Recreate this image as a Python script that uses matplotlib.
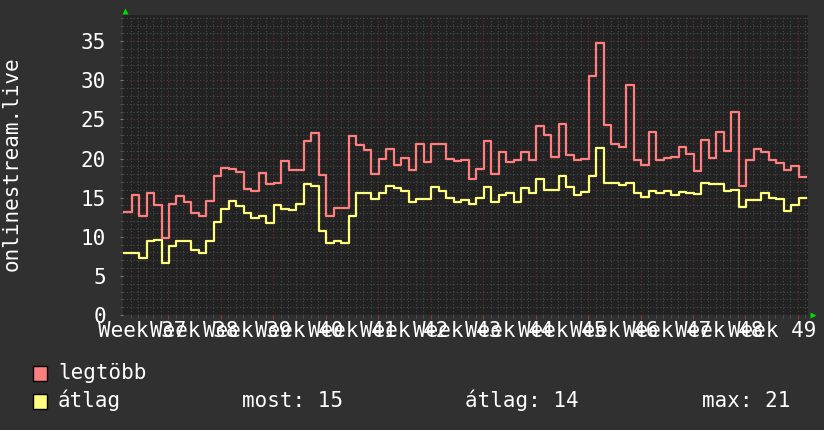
import numpy as np
import matplotlib
matplotlib.use("Agg")
import matplotlib.pyplot as plt
from matplotlib.patches import Rectangle

# daily values
legtobb = [13.2, 15.3, 12.7, 15.6, 14.0, 9.8, 14.2, 15.2, 14.4, 13.1,
           12.7, 14.6, 17.8, 18.8, 18.7, 18.3, 16.1, 15.9, 18.1, 16.7,
           16.9, 19.7, 18.5, 18.5, 22.3, 23.3, 17.9, 12.6, 13.7, 13.7,
           22.9, 21.7, 21.1, 18.0, 19.9, 21.2, 19.2, 20.1, 18.5, 21.9,
           19.6, 21.9, 21.9, 19.9, 19.7, 19.8, 17.4, 18.7, 22.3, 18.0,
           20.8, 19.6, 19.8, 20.8, 19.8, 24.1, 23.0, 20.2, 24.4, 20.5,
           19.8, 19.9, 30.5, 34.8, 24.3, 21.9, 21.5, 29.4, 19.8, 19.2,
           23.4, 19.8, 20.1, 20.2, 21.5, 20.6, 18.4, 22.4, 20.1, 23.4,
           21.0, 25.9, 16.5, 19.8, 21.2, 20.9, 19.8, 19.4, 18.5, 19.0,
           17.7]
atlag = [7.9, 7.9, 7.3, 9.5, 9.6, 6.7, 8.8, 9.4, 9.5, 8.3,
         7.9, 9.5, 11.9, 13.6, 14.6, 13.9, 13.0, 12.4, 12.7, 11.7,
         14.1, 13.5, 13.4, 14.2, 16.8, 16.5, 10.8, 9.2, 9.5, 9.25,
         12.7, 15.6, 15.6, 14.8, 15.6, 16.5, 16.2, 15.8, 14.4, 14.8,
         14.8, 16.3, 15.9, 14.9, 14.5, 14.7, 14.2, 14.9, 16.4, 14.5,
         15.3, 15.6, 14.4, 16.2, 15.6, 17.4, 16.0, 16.0, 17.8, 16.3,
         15.4, 15.7, 17.8, 21.4, 16.9, 16.9, 16.6, 16.9, 15.6, 15.1,
         15.9, 15.6, 15.8, 15.3, 15.7, 15.6, 15.5, 16.9, 16.8, 16.75,
         15.9, 16.0, 13.85, 14.7, 14.7, 15.6, 14.9, 14.8, 13.3, 14.0,
         14.9]
week_labels = ["Week %d" % w for w in range(37, 50)]
summary = ["most: 15", "átlag: 14", "max: 21"]

BG = "#303030"
CANVAS = "#222222"
RED = "#ff7f7f"
YEL = "#ffff7f"
W, H = 824, 430
FS = 15

plt.rcParams["font.family"] = "DejaVu Sans Mono"
plt.rcParams["font.size"] = FS

fig = plt.figure(figsize=(W / 100, H / 100), dpi=100, facecolor=BG)
ax = fig.add_axes([123.5 / W, 1 - 315 / H, (808 - 123.5) / W, 300 / H], facecolor=CANVAS)

x = np.arange(len(legtobb) + 1)
ax.step(x, legtobb + legtobb[-1:], where="post", color=RED, lw=1.6, zorder=3)
ax.step(x, atlag + atlag[-1:], where="post", color=YEL, lw=1.6, zorder=3)

ax.set_xlim(-0.07, 91.25)
ax.set_ylim(0, 38.35)

first_week = 5.91
majors = first_week + 7 * np.arange(len(week_labels))
ax.set_xticks(majors)
ax.set_xticklabels([])
ax.set_xticks(np.arange(first_week - 5, 91.25, 1), minor=True)
ax.set_yticks(range(0, 36, 5))
ax.set_yticks(range(0, 39), minor=True)

ax.grid(which="minor", color="#4a4a4a", ls=(0, (1, 2)), lw=0.8)
ax.grid(which="major", color="#633434", ls=(0, (1, 2)), lw=0.8)
ax.set_axisbelow(True)
ax.tick_params(which="major", axis="x", length=3, color="#8a3a3a")
ax.tick_params(which="minor", length=2, color="#555555")
ax.tick_params(which="major", axis="y", length=2, color="#777777",
               labelcolor="white", pad=10.5, labelsize=FS)
for s in ax.spines.values():
    s.set_visible(False)

for pos, lab in zip(majors - 3.5, week_labels):
    ax.text(pos, -21.7 / 300, lab, transform=ax.get_xaxis_transform(),
            ha="center", va="baseline", color="white", fontsize=FS, clip_on=False)

# rrd style arrows
ax.plot([0.002], [1.0127], marker="^", ms=5, color="#00dd00", mec="none",
        transform=ax.transAxes, clip_on=False)
ax.plot([1.0073], [0.0], marker=">", ms=5, color="#00dd00", mec="none",
        transform=ax.transAxes, clip_on=False)

fig.text(12 / W, 1 - 164 / H, "onlinestream.live", rotation=90,
         ha="center", va="center", color="white", fontsize=FS)

# legend
for ytop, col, lab in [(366, RED, "legtöbb"), (394, YEL, "átlag")]:
    fig.patches.append(Rectangle((33 / W, 1 - (ytop + 15) / H), 14 / W, 15 / H,
                                 transform=fig.transFigure, facecolor=col,
                                 edgecolor="black", lw=1))
    fig.text(58 / W, 1 - (ytop + 13) / H, lab, color="white", fontsize=FS, va="baseline")

for xs, txt in zip([242, 465, 701.5], summary):
    fig.text(xs / W, 1 - 407 / H, txt, color="white", fontsize=FS, va="baseline")

fig.savefig("out.png", dpi=100, facecolor=BG)
